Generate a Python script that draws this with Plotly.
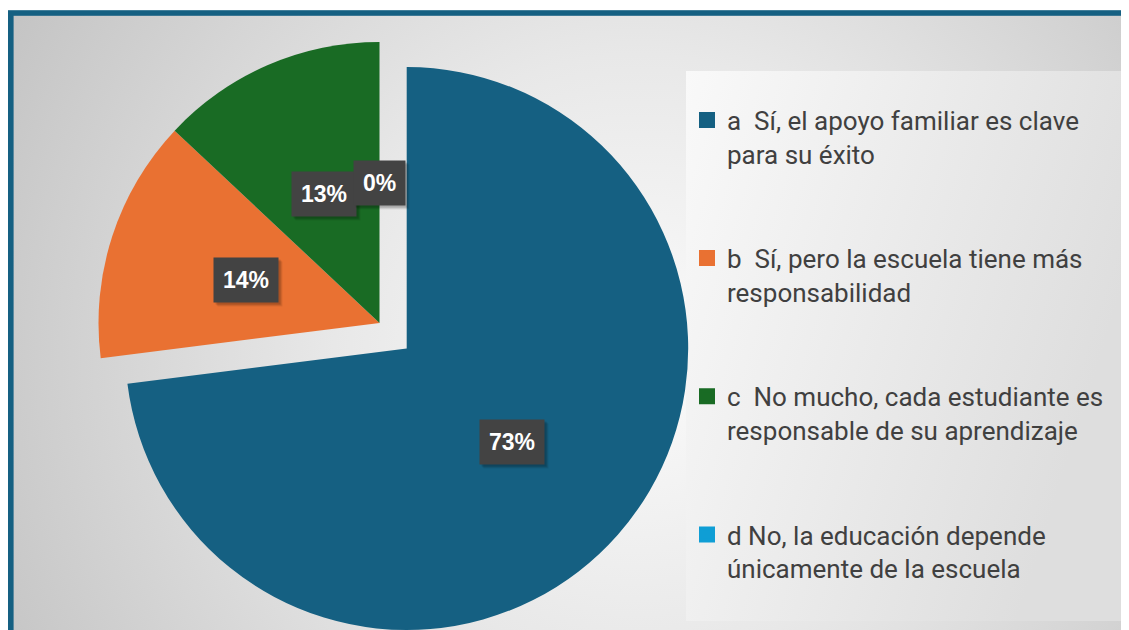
import math
import urllib.parse
import plotly.graph_objects as go

# ---------------- data ----------------
categories = [
    "a\u00a0 Sí, el apoyo familiar es clave",
    "b\u00a0 Sí, pero la escuela tiene más",
    "c\u00a0 No mucho, cada estudiante es",
    "d No, la educación depende",
]
categories_line2 = [
    "para su éxito",
    "responsabilidad",
    "responsable de su aprendizaje",
    "únicamente de la escuela",
]
values = [73, 14, 13, 0]
colors = ["#156082", "#E97132", "#196B24", "#0F9ED5"]

# ---------------- layout constants (pixels inside the figure) ----------------
W, H = 1129, 630
CA = (398.7, 340.5, 281.5)   # exploded slice "a": centre x, centre y, radius
CB = (371.5, 315.0, 281.0)   # remaining slices


def domain_for(cx, cy, r):
    return dict(x=[(cx - r) / W, (cx + r) / W],
                y=[(H - cy - r) / H, (H - cy + r) / H])


n = len(values)
labels = []
for i, (l1, l2) in enumerate(zip(categories, categories_line2)):
    pad = "<br>\u00a0<br>\u00a0" if i < n - 1 else ""
    labels.append(f"{l1}<br>{l2}{pad}")
transparent = "rgba(0,0,0,0)"

fig = go.Figure()

# legend carrier (tiny, hidden beneath slice a)
fig.add_trace(go.Pie(
    labels=labels, values=values, sort=False, direction="clockwise",
    marker=dict(colors=colors, line=dict(color=colors, width=4)),
    textinfo="none", hoverinfo="skip",
    domain=dict(x=[0.40, 0.401], y=[0.30, 0.301]),
    showlegend=True,
))
# exploded slice a
fig.add_trace(go.Pie(
    labels=labels, values=values, sort=False, direction="clockwise",
    marker=dict(colors=[colors[0]] + [transparent] * (n - 1)),
    textinfo="none", hoverinfo="label+percent",
    domain=domain_for(*CA), showlegend=False,
))
# remaining slices
fig.add_trace(go.Pie(
    labels=labels, values=values, sort=False, direction="clockwise",
    marker=dict(colors=[transparent] + colors[1:]),
    textinfo="none", hoverinfo="label+percent",
    domain=domain_for(*CB), showlegend=False,
))

# data labels: dark boxes at half radius along each slice's mid-angle
total = sum(values)
cum = 0
annotations = []
for i, v in enumerate(values):
    mid = (cum + v / 2) / total * 2 * math.pi
    cum += v
    cx, cy, r = CA if i == 0 else CB
    px = cx + 0.5 * r * math.sin(mid)
    py = cy - 0.5 * r * math.cos(mid)
    txt = f"<b>{round(v / total * 100)}%</b>"
    for k, a in ((4, 0.07), (3, 0.10), (2, 0.12)):
        annotations.append(dict(
            x=(px + k) / W, y=1 - (py + k) / H, xref="paper", yref="paper",
            xanchor="center", yanchor="middle",
            text=txt, showarrow=False, bgcolor=f"rgba(0,0,0,{a})",
            font=dict(family="Liberation Sans", size=23, color="rgba(0,0,0,0)"),
            borderpad=9,
        ))
    annotations.append(dict(
        x=px / W, y=1 - py / H, xref="paper", yref="paper",
        xanchor="center", yanchor="middle",
        text=txt, showarrow=False, bgcolor="#434343",
        font=dict(family="Liberation Sans", size=23, color="white"),
        borderpad=9,
    ))

# background: frame, radial gradient fill, legend panel
svg = f"""<svg xmlns='http://www.w3.org/2000/svg' width='{W}' height='{H}' viewBox='0 0 {W} {H}' preserveAspectRatio='none'>
<defs>
<radialGradient id='bg' cx='630' cy='350' r='760' gradientUnits='userSpaceOnUse'>
<stop offset='0' stop-color='#fbfbfb'/>
<stop offset='0.4' stop-color='#e8e8e8'/>
<stop offset='1' stop-color='#c0c0c0'/>
</radialGradient>
<linearGradient id='lg' x1='0' y1='0' x2='1' y2='0.4'>
<stop offset='0' stop-color='#f9f9f9'/>
<stop offset='1' stop-color='#dedede'/>
</linearGradient>
</defs>
<rect width='{W}' height='{H}' fill='white'/>
<rect x='2.8' y='5' width='1150' height='660' fill='url(#bg)' stroke='#156082' stroke-width='5.6'/>
<rect x='678' y='63' width='436' height='550' fill='url(#lg)'/>
</svg>"""
src = "data:image/svg+xml;charset=utf-8," + urllib.parse.quote(svg)

fig.update_layout(
    width=W, height=H, autosize=False,
    margin=dict(l=0, r=0, t=0, b=0),
    paper_bgcolor="white",
    images=[dict(source=src, xref="paper", yref="paper", x=0, y=1,
                 sizex=1, sizey=1, xanchor="left", yanchor="top",
                 sizing="stretch", layer="below")],
    legend=dict(x=679 / W, y=1 - 88.5 / H, xanchor="left", yanchor="top",
                bgcolor="rgba(0,0,0,0)", valign="top",
                font=dict(family="Roboto", size=26, color="#404040"),
                itemclick=False, itemdoubleclick=False),
    annotations=annotations,
)

fig.write_html("out.html")
